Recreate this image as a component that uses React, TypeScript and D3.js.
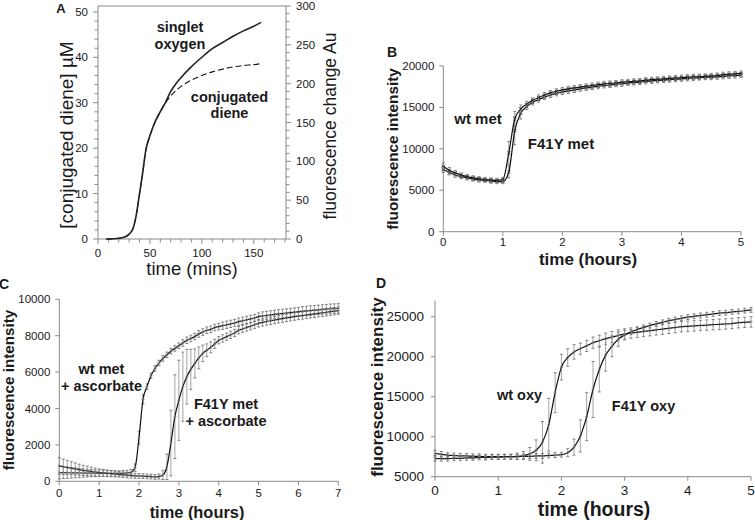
import React from "react";
import * as d3 from "d3";

const FONT = "'Liberation Sans', Arial, Helvetica, sans-serif";

// ---------------- Panel A ----------------
const timeA = [8, 15, 20, 25, 28, 31, 34, 37, 40, 43, 46, 50, 55, 60, 65, 70, 75, 80, 90, 100, 110, 120, 130, 140, 150, 157];
// conjugated diene, µM (left axis)
const dieneA = [0, 0.05, 0.15, 0.4, 0.7, 1.3, 2.5, 5.5, 10, 14.5, 19.5, 22.8, 25.8, 28, 30, 31.5, 32.7, 33.6, 35, 36, 36.8, 37.4, 37.9, 38.2, 38.4, 38.6];
// singlet oxygen, fluorescence change Au (right axis)
const singletA = [0, 0.3, 0.9, 2.3, 4.1, 7.6, 14.6, 32, 58.5, 85, 114, 133, 151, 164, 176, 190, 200, 208, 222, 234, 245, 253, 261, 268, 274, 279];
const ticksAx = [0, 50, 100, 150];
const ticksAyL = [0, 10, 20, 30, 40, 50];
const ticksAyR = [0, 50, 100, 150, 200, 250, 300];

// ---------------- Panel B (sampled every 0.1 h) ----------------
const stepB = 0.1;
const wtMetB = [
  7900, 7400, 7100, 6850, 6650, 6500, 6400, 6300, 6250, 6200,
  6300, 9500, 13600, 14800, 15400, 15850, 16200, 16500, 16750, 16950,
  17100, 17250, 17350, 17450, 17550, 17650, 17750, 17850, 17900, 17950,
  18050, 18100, 18150, 18200, 18300, 18350, 18400, 18450, 18500, 18550,
  18600, 18650, 18700, 18700, 18750, 18800, 18850, 18950, 19000, 19050,
  19100,
];
const f41MetB = [
  7500, 7150, 6850, 6650, 6500, 6350, 6250, 6200, 6100, 6050,
  6050, 7200, 12200, 14300, 15100, 15600, 15950, 16250, 16500, 16700,
  16850, 17000, 17100, 17250, 17350, 17450, 17550, 17650, 17700, 17800,
  17850, 17950, 18000, 18050, 18150, 18200, 18250, 18300, 18350, 18400,
  18450, 18500, 18550, 18600, 18650, 18650, 18700, 18750, 18800, 18850,
  18900,
];
const wtMetBErr = [
  400, 350, 300, 250, 250, 250, 250, 250, 250, 250,
  250, 1400, 900, 500, 350, 300, 300, 300, 300, 300,
  300, 300, 300, 300, 300, 300, 300, 300, 300, 300,
  300, 300, 300, 300, 300, 300, 300, 300, 300, 300,
  300, 300, 300, 300, 300, 300, 300, 300, 300, 300,
  300,
];
const f41MetBErr = [
  350, 300, 300, 250, 250, 250, 250, 250, 250, 250,
  250, 700, 1700, 700, 350, 300, 300, 300, 300, 300,
  300, 300, 300, 300, 300, 300, 300, 300, 300, 300,
  300, 300, 300, 300, 300, 300, 300, 300, 300, 300,
  300, 300, 300, 300, 300, 300, 300, 300, 300, 300,
  300,
];
const ticksBx = [0, 1, 2, 3, 4, 5];
const ticksBy = [0, 5000, 10000, 15000, 20000];

// ---------------- Panel C (sampled every 0.1 h) ----------------
const stepC = 0.1;
const wtAscC = [
  480, 480, 470, 470, 460, 460, 455, 450, 450, 445,
  440, 440, 435, 430, 430, 430, 440, 450, 500, 750,
  2400, 4500, 5200, 5800, 6200, 6500, 6750, 6950, 7150, 7300,
  7450, 7600, 7750, 7850, 7950, 8100, 8200, 8300, 8350, 8450,
  8500, 8550, 8600, 8650, 8700, 8770, 8820, 8870, 8920, 8970,
  9050, 9080, 9110, 9140, 9170, 9200, 9220, 9250, 9270, 9300,
  9320, 9340, 9360, 9380, 9400, 9420, 9440, 9460, 9480, 9490,
  9500,
];
const f41AscC = [
  850, 800, 760, 720, 680, 640, 600, 570, 540, 510,
  480, 460, 440, 420, 400, 380, 360, 340, 320, 300,
  290, 280, 270, 260, 240, 260, 350, 800, 2100, 3550,
  4450, 5200, 5750, 6150, 6480, 6780, 7030, 7200, 7360, 7550,
  7750, 7850, 7950, 8050, 8150, 8300, 8370, 8450, 8520, 8600,
  8680, 8730, 8780, 8820, 8860, 8900, 8940, 8980, 9010, 9050,
  9080, 9110, 9140, 9170, 9200, 9230, 9260, 9290, 9320, 9350,
  9380,
];
const wtAscCErr = [
  350, 330, 310, 290, 270, 250, 230, 210, 200, 190,
  180, 170, 160, 150, 150, 150, 150, 150, 150, 200,
  350, 250, 150, 150, 150, 150, 150, 150, 150, 150,
  150, 180, 180, 180, 180, 180, 180, 180, 180, 180,
  180, 200, 200, 200, 200, 200, 200, 200, 200, 200,
  200, 230, 230, 230, 230, 230, 230, 230, 230, 230,
  230, 260, 260, 260, 260, 260, 260, 260, 260, 260,
  260,
];
const f41AscCErr = [
  450, 420, 390, 360, 330, 300, 280, 260, 240, 220,
  200, 190, 180, 170, 160, 150, 150, 150, 140, 140,
  130, 130, 130, 130, 130, 140, 250, 700, 1800, 2300,
  2200, 1900, 1500, 1100, 800, 600, 450, 350, 300, 250,
  200, 200, 200, 200, 200, 200, 200, 200, 200, 200,
  200, 200, 200, 200, 200, 200, 200, 200, 200, 200,
  200, 200, 200, 200, 200, 200, 200, 200, 200, 200,
  200,
];
const ticksCx = [0, 1, 2, 3, 4, 5, 6, 7];
const ticksCy = [0, 2000, 4000, 6000, 8000, 10000];

// ---------------- Panel D (sampled every 0.1 h) ----------------
const stepD = 0.1;
const wtOxyD = [
  7900, 7800, 7700, 7650, 7600, 7600, 7550, 7550, 7500, 7500,
  7500, 7500, 7500, 7550, 7650, 7850, 8300, 9300, 11500, 15500,
  18700, 19900, 20600, 21000, 21350, 21750, 22000, 22250, 22450, 22650,
  22850, 22950, 23050, 23150, 23250, 23350, 23450, 23550, 23650, 23750,
  23800, 23850, 23900, 23950, 24000, 24050, 24100, 24150, 24250, 24300,
  24350,
];
const f41OxyD = [
  7300, 7250, 7250, 7300, 7300, 7350, 7350, 7400, 7400, 7450,
  7450, 7500, 7500, 7500, 7550, 7550, 7600, 7600, 7650, 7700,
  7750, 8000, 8700, 10100, 12500, 15900, 18400, 20200, 21300, 22200,
  22700, 23100, 23400, 23650, 23900, 24100, 24300, 24500, 24650, 24800,
  24950, 25050, 25150, 25250, 25350, 25450, 25500, 25600, 25650, 25750,
  25850,
];
const wtOxyDErr = [
  400, 350, 300, 300, 300, 300, 300, 300, 300, 300,
  300, 300, 300, 400, 500, 800, 1300, 2600, 3300, 2500,
  1600, 1100, 900, 700, 700, 700, 700, 700, 700, 700,
  650, 650, 650, 650, 650, 650, 650, 650, 650, 650,
  650, 650, 650, 650, 650, 650, 650, 650, 650, 650,
  650,
];
const f41OxyDErr = [
  350, 300, 300, 300, 300, 300, 300, 300, 300, 300,
  300, 300, 300, 300, 300, 300, 300, 300, 300, 300,
  300, 500, 1000, 2000, 3000, 3500, 2800, 2000, 1300, 900,
  600, 300, 300, 300, 300, 300, 300, 300, 300, 300,
  300, 300, 300, 300, 300, 300, 300, 300, 300, 300,
  300,
];
const ticksDx = [0, 1, 2, 3, 4, 5];
const ticksDy = [5000, 10000, 15000, 20000, 25000];

// ---------------- helpers ----------------
type Lin = d3.ScaleLinear<number, number>;
const AX = "#8a8a8a";
const TXT = "#1a1a1a";

function LeftAxis({ y, x, ticks, minor = [], fs, off = 9, len = 4, right = false }: any) {
  const [r0, r1] = y.range();
  const dir = right ? 1 : -1;
  return (
    <g>
      <line x1={x} x2={x} y1={r0} y2={r1} stroke={AX} strokeWidth={1} />
      {minor.map((t: number) => (
        <line key={"m" + t} x1={x} x2={x + dir * (len - 1.5)} y1={y(t)} y2={y(t)} stroke={AX} />
      ))}
      {ticks.map((t: number) => (
        <line key={"t" + t} x1={x} x2={x + dir * len} y1={y(t)} y2={y(t)} stroke={AX} />
      ))}
      {ticks.map((t: number) => (
        <text key={"l" + t} x={x + dir * off} y={y(t)} textAnchor={right ? "start" : "end"}
          dominantBaseline="central" fontSize={fs} fill={TXT} fontFamily={FONT}>{t}</text>
      ))}
    </g>
  );
}

function BottomAxis({ x, y, ticks, minor = [], fs, off = 12, len = 4 }: any) {
  const [r0, r1] = x.range();
  return (
    <g>
      <line x1={r0} x2={r1} y1={y} y2={y} stroke={AX} />
      {minor.map((t: number) => (
        <line key={"m" + t} x1={x(t)} x2={x(t)} y1={y} y2={y + len - 1.5} stroke={AX} />
      ))}
      {ticks.map((t: number) => (
        <line key={"t" + t} x1={x(t)} x2={x(t)} y1={y} y2={y + len} stroke={AX} />
      ))}
      {ticks.map((t: number) => (
        <text key={"l" + t} x={x(t)} y={y + off} textAnchor="middle" dominantBaseline="central"
          fontSize={fs} fill={TXT} fontFamily={FONT}>{t}</text>
      ))}
    </g>
  );
}

function Series({ vals, errs, step, x, y, marker, capW = 3 }: any) {
  const pts: [number, number][] = vals.map((v: number, i: number) => [x(i * step), y(v)]);
  const path = d3.line().curve(d3.curveMonotoneX)(pts) || "";
  return (
    <g>
      {vals.map((v: number, i: number) => {
        const px = x(i * step);
        const y1 = y(v - errs[i]);
        const y2 = y(v + errs[i]);
        return (
          <g key={i}>
            <line x1={px} x2={px} y1={y1} y2={y2} stroke="#9a9a9a" strokeWidth={0.9} />
            <line x1={px - capW / 2} x2={px + capW / 2} y1={y1} y2={y1} stroke="#666" strokeWidth={0.8} />
            <line x1={px - capW / 2} x2={px + capW / 2} y1={y2} y2={y2} stroke="#666" strokeWidth={0.8} />
          </g>
        );
      })}
      <path d={path} fill="none" stroke="#111" strokeWidth={1.2} />
      {marker === "x" && pts.map(([px, py], i) => (
        <path key={"k" + i} d={`M${px - 1.6},${py - 1.6}L${px + 1.6},${py + 1.6}M${px - 1.6},${py + 1.6}L${px + 1.6},${py - 1.6}`}
          stroke="#333" strokeWidth={0.9} />
      ))}
      {marker === "o" && pts.map(([px, py], i) => (
        <circle key={"c" + i} cx={px} cy={py} r={1.1} fill="none" stroke="#888" strokeWidth={0.7} />
      ))}
    </g>
  );
}

function Label({ x, y, children, fs = 14.5, bold = true, rotate = false, anchor = "middle" }: any) {
  return (
    <text x={x} y={y} fontSize={fs} fontWeight={bold ? "bold" : "normal"} fontFamily={FONT} fill={TXT}
      textAnchor={anchor} dominantBaseline="central" transform={rotate ? `rotate(-90 ${x} ${y})` : undefined}>
      {children}
    </text>
  );
}

export default function App() {
  // Panel A scales
  const xA: Lin = d3.scaleLinear().domain([0, 181]).range([98, 286]);
  const yAL: Lin = d3.scaleLinear().domain([0, 51.3]).range([239, 6]);
  const yAR: Lin = d3.scaleLinear().domain([0, 300]).range([239, 6]);
  const minorAx = d3.range(0, 181, 10).filter((t) => t % 50 !== 0);
  const minorAyL = d3.range(0, 51, 2).filter((t) => t % 10 !== 0);
  const minorAyR = d3.range(0, 300, 10).filter((t) => t % 50 !== 0);
  const lineDiene = d3.line<number>().curve(d3.curveMonotoneX)
    .x((_, i) => xA(timeA[i])).y((d) => yAL(d))(dieneA) || "";
  const lineSinglet = d3.line<number>().curve(d3.curveMonotoneX)
    .x((_, i) => xA(timeA[i])).y((d) => yAR(d))(singletA) || "";

  // Panel B
  const xB: Lin = d3.scaleLinear().domain([0, 5]).range([443.3, 741]);
  const yB: Lin = d3.scaleLinear().domain([0, 20000]).range([231.7, 66]);
  // Panel C
  const xC: Lin = d3.scaleLinear().domain([0, 7]).range([59.3, 338.3]);
  const yC: Lin = d3.scaleLinear().domain([0, 10000]).range([481.3, 299.3]);
  // Panel D
  const xD: Lin = d3.scaleLinear().domain([0, 5]).range([435, 751]);
  const yD: Lin = d3.scaleLinear().domain([5000, 27000]).range([476.7, 300.7]);

  return (
    <svg width={755} height={520} style={{ position: "absolute", left: 0, top: 0, background: "#fff" }}
      fontFamily={FONT}>
      <rect width={755} height={520} fill="#fff" />

      {/* ---------- A ---------- */}
      <Label x={61} y={8} fs={13}>A</Label>
      <line x1={98} x2={286} y1={6} y2={6} stroke={AX} />
      <LeftAxis y={yAL} x={98} ticks={ticksAyL} minor={minorAyL} fs={11.5} off={10} len={5} />
      <LeftAxis y={yAR} x={286} ticks={ticksAyR} minor={minorAyR} fs={11.5} off={10} len={5} right />
      <BottomAxis x={xA} y={239} ticks={ticksAx} minor={minorAx} fs={11.5} off={14} len={5} />
      <path d={lineDiene} fill="none" stroke="#111" strokeWidth={1.1} strokeDasharray="6,3" />
      <path d={lineSinglet} fill="none" stroke="#222" strokeWidth={1.6} />
      <Label x={180} y={27}>singlet</Label>
      <Label x={180} y={44}>oxygen</Label>
      <Label x={229.5} y={97}>conjugated</Label>
      <Label x={229.5} y={113}>diene</Label>
      <Label x={66} y={135} fs={19} bold={false} rotate>[conjugated diene] µM</Label>
      <Label x={330} y={126} fs={17.5} bold={false} rotate>fluorescence change Au</Label>
      <Label x={192} y={268} fs={18.5} bold={false}>time (mins)</Label>

      {/* ---------- B ---------- */}
      <Label x={392} y={52} fs={14}>B</Label>
      <LeftAxis y={yB} x={443.3} ticks={ticksBy} fs={11.5} off={9} len={4} />
      <BottomAxis x={xB} y={231.7} ticks={ticksBx} fs={11.5} off={10} len={4} />
      <Series vals={f41MetB} errs={f41MetBErr} step={stepB} x={xB} y={yB} marker="x" />
      <Series vals={wtMetB} errs={wtMetBErr} step={stepB} x={xB} y={yB} marker="x" />
      <Label x={478} y={118} fs={15}>wt met</Label>
      <Label x={561} y={143} fs={15}>F41Y met</Label>
      <Label x={392} y={149} fs={15.3} rotate>fluorescence intensity</Label>
      <Label x={588} y={259} fs={17}>time (hours)</Label>

      {/* ---------- C ---------- */}
      <Label x={4} y={284} fs={14}>C</Label>
      <LeftAxis y={yC} x={59.3} ticks={ticksCy} fs={11.5} off={9} len={4} />
      <BottomAxis x={xC} y={481.3} ticks={ticksCx} fs={11.5} off={12} len={4} />
      <Series vals={wtAscC} errs={wtAscCErr} step={stepC} x={xC} y={yC} marker="o" />
      <Series vals={f41AscC} errs={f41AscCErr} step={stepC} x={xC} y={yC} marker="o" />
      <Label x={101.5} y={369} fs={14.5}>wt met</Label>
      <Label x={101.5} y={386} fs={14.5}>+ ascorbate</Label>
      <Label x={226} y={404} fs={14.5}>F41Y met</Label>
      <Label x={226} y={421} fs={14.5}>+ ascorbate</Label>
      <Label x={8} y={390} fs={15.2} rotate>fluorescence intensity</Label>
      <Label x={197} y={512} fs={16.4}>time (hours)</Label>

      {/* ---------- D ---------- */}
      <Label x={381} y={283} fs={14}>D</Label>
      <LeftAxis y={yD} x={435} ticks={ticksDy} fs={13.5} off={11} len={4} />
      <BottomAxis x={xD} y={476.7} ticks={ticksDx} fs={13.5} off={14} len={4} />
      <Series vals={wtOxyD} errs={wtOxyDErr} step={stepD} x={xD} y={yD} marker="o" />
      <Series vals={f41OxyD} errs={f41OxyDErr} step={stepD} x={xD} y={yD} marker="o" />
      <Label x={519.5} y={395} fs={14.5}>wt oxy</Label>
      <Label x={643.5} y={406} fs={14.5}>F41Y oxy</Label>
      <Label x={377} y={387} fs={17} rotate>fluorescence intensity</Label>
      <Label x={594} y={509} fs={19.5}>time (hours)</Label>
    </svg>
  );
}
